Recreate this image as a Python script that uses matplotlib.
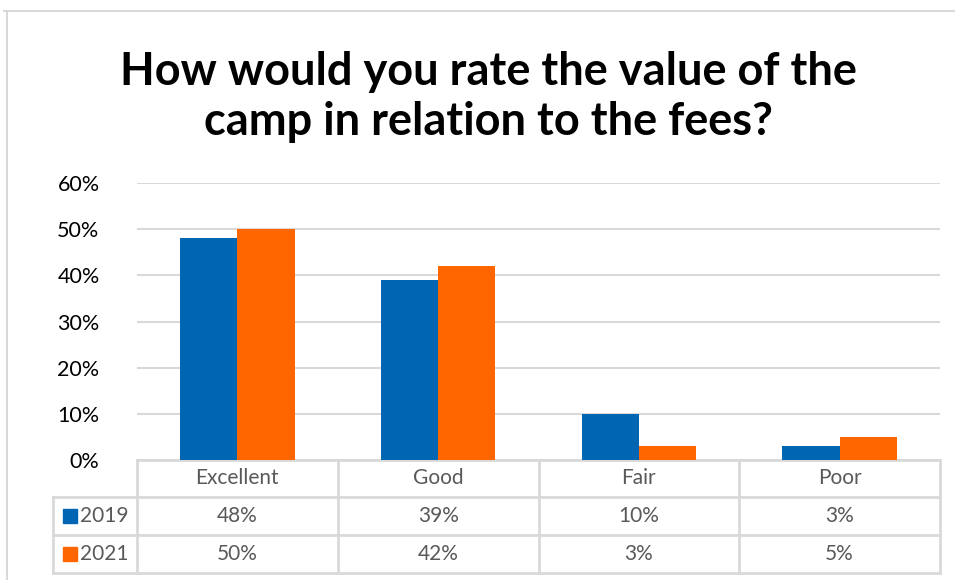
import matplotlib.pyplot as plt
import numpy as np
from matplotlib.lines import Line2D
from matplotlib.patches import Rectangle

categories = ['Excellent', 'Good', 'Fair', 'Poor']
series_names = ['2019', '2021']
values_2019 = [0.48, 0.39, 0.10, 0.03]
values_2021 = [0.50, 0.42, 0.03, 0.05]
y_ticks = [0, 0.1, 0.2, 0.3, 0.4, 0.5, 0.6]

title = 'How would you rate the value of the\ncamp in relation to the fees?'
colors = ['#0066B3', '#FF6600']
grid_c = '#D9D9D9'
text_c = '#595959'

plt.rcParams['font.family'] = ['Lato', 'DejaVu Sans']

fig = plt.figure(figsize=(9.55, 5.8), dpi=100)
W, H = 955, 580


def fx(px):
    return px / W


def fy(py):
    return 1 - py / H


# outer chart border (light gray)
fig.add_artist(Line2D([fx(4), 1], [fy(11), fy(11)], color='#D9D9D9', lw=1.5))
fig.add_artist(Line2D([fx(7), fx(7)], [fy(11), 0], color='#D9D9D9', lw=1.5))

ax = fig.add_axes([fx(137), fy(460), fx(940) - fx(137), fy(183) - fy(460)])

x = np.arange(len(categories))
w = 0.285
ax.bar(x - w / 2, values_2019, w, color=colors[0], zorder=3)
ax.bar(x + w / 2, values_2021, w, color=colors[1], zorder=3)

ax.set_xlim(-0.5, len(categories) - 0.5)
ax.set_ylim(0, 0.6)
ax.set_yticks(y_ticks)
ax.set_yticklabels(['{:.0f}%'.format(v * 100) for v in y_ticks], fontsize=15.5, color='#000000')
ax.tick_params(axis='y', length=0, pad=27)
ax.set_xticks([])
ax.grid(axis='y', color=grid_c, lw=1.5, zorder=0)
for s in ax.spines.values():
    s.set_visible(False)

fig.text(0.511, fy(97), title, ha='center', va='center', fontsize=32.5,
         fontweight='bold', linespacing=1.25)

# data table under the axis
tr = ax.transAxes
ax_h = 460 - 183
rows_px = [460, 497, 535, 573]
rows = [-(r - 460) / ax_h for r in rows_px]
left_col = (53 - 137) / 803
line_kw = dict(color=grid_c, lw=2, transform=tr, clip_on=False)
ax.add_line(Line2D([0, 1], [rows[0], rows[0]], **line_kw))
for r in rows[1:]:
    ax.add_line(Line2D([left_col, 1], [r, r], **line_kw))
ax.add_line(Line2D([left_col, left_col], [rows[1], rows[3]], **line_kw))
for i in range(len(categories) + 1):
    xa = i / len(categories)
    ax.add_line(Line2D([xa, xa], [rows[0], rows[3]], **line_kw))

fs = 15
for i, cat in enumerate(categories):
    xc = (i + 0.5) / len(categories)
    ax.text(xc, (rows[0] + rows[1]) / 2, cat, transform=tr, ha='center', va='center',
            fontsize=fs, color=text_c)
    for j, vals in enumerate([values_2019, values_2021]):
        ax.text(xc, (rows[j + 1] + rows[j + 2]) / 2, '{:.0f}%'.format(vals[i] * 100),
                transform=tr, ha='center', va='center', fontsize=fs, color=text_c)

for j, name in enumerate(series_names):
    yc = (rows[j + 1] + rows[j + 2]) / 2
    ax.add_patch(Rectangle((left_col + 0.012, yc - 0.024), 0.018, 0.048, color=colors[j],
                           transform=tr, clip_on=False))
    ax.text(left_col + 0.034, yc, name, transform=tr, ha='left', va='center',
            fontsize=fs, color=text_c)

fig.savefig('out.png', dpi=100)
